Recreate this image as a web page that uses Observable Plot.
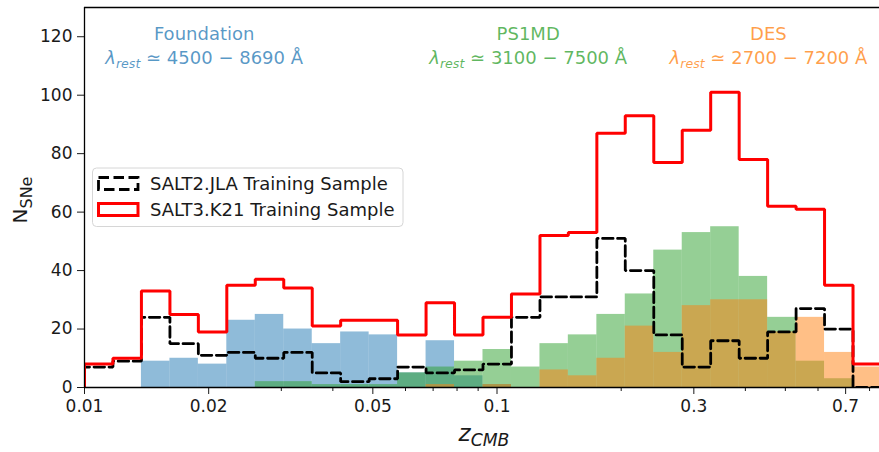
<!DOCTYPE html>
<html><head><meta charset="utf-8">
<script src="https://cdn.jsdelivr.net/npm/d3@7"></script>
<script src="https://cdn.jsdelivr.net/npm/@observablehq/plot@0.6"></script>
<style>
body{margin:0;background:#fff;}
#chart{position:relative;width:879px;height:452px;}
svg{font-family:"DejaVu Sans",sans-serif;}
svg text{white-space:pre;}
</style>
</head><body><div id="chart"></div>
<script>
// Log-spaced redshift bin edges (29 edges -> 28 bins)
const binEdges = [0.01, 0.01172, 0.01374, 0.01611, 0.01888, 0.02213, 0.02594, 0.03041, 0.03565, 0.04178,
  0.04898, 0.05741, 0.0673, 0.07889, 0.09247, 0.1084, 0.1271, 0.1489, 0.1746, 0.2046,
  0.2399, 0.2812, 0.3296, 0.3864, 0.4529, 0.5309, 0.6223, 0.7295, 0.8551];
// Counts per bin
const salt3K21  = [8,10,33,25,19,35,37,34,21,23,23,18,29,18,24,32,52,53,87,93,77,88,101,78,62,61,35,8];
const salt2JLA  = [7,9,24,15,11,12,10,12,5,2,3,7,5,6,8,24,31,31,51,40,18,7,16,10,19,27,20,0];
const foundation= [0,0,9,10,8,23,25,20,15,19,18,5,16,4,1,0,0,0,0,0,0,0,0,0,0,0,0,0];
const ps1md     = [0,0,0,0,0,0,2,2,1,1,1,5,7,9,13,7,15,18,25,32,47,53,55,38,24,9,3,0];
const des       = [0,0,0,0,0,0,0,0,0,0,0,0,1,0,1,0,6,4,10,21,12,28,30,30,19,24,12,7];

const majorTicks = [0.01, 0.02, 0.05, 0.1, 0.3, 0.7];
const majorTickLabels = ["0.01", "0.02", "0.05", "0.1", "0.3", "0.7"];
const minorTicks = [0.03, 0.04, 0.06, 0.07, 0.08, 0.09, 0.2, 0.4, 0.5, 0.6, 0.8];
const yTicks = [0, 20, 40, 60, 80, 100, 120];

const surveyNames  = ["Foundation", "PS1MD", "DES"];
const surveyRanges = ["4500 − 8690 Å", "3100 − 7500 Å", "2700 − 7200 Å"];
const surveyLabelZ = [0.0195, 0.119, 0.455];
const surveyColors = ["#1f77b4", "#2ca02c", "#ff7f0e"];
const legendLabels = ["SALT2.JLA Training Sample", "SALT3.K21 Training Sample"];

function bars(vals, color) {
  const data = vals.map((v, i) => ({x1: binEdges[i], x2: binEdges[i + 1], v})).filter(d => d.v > 0);
  return Plot.rectY(data, {x1: "x1", x2: "x2", y1: 0, y2: "v", fill: color, fillOpacity: 0.5, clip: true});
}
function steps(vals) {
  return [{x: binEdges[0], y: 0}, ...vals.map((v, i) => ({x: binEdges[i], y: v})), {x: binEdges[vals.length], y: 0}];
}

const marks = [
  bars(foundation, surveyColors[0]),
  bars(ps1md, surveyColors[1]),
  bars(des, surveyColors[2]),
  Plot.line(steps(salt2JLA), {x: "x", y: "y", curve: "step-after", stroke: "black", strokeWidth: 2.8,
    strokeDasharray: "10.5,4.5", strokeLinejoin: "miter", clip: true}),
  Plot.line(steps(salt3K21), {x: "x", y: "y", curve: "step-after", stroke: "red", strokeWidth: 3,
    strokeLinejoin: "miter", clip: true}),
  Plot.axisX({ticks: majorTicks, tickSize: 7, tickFormat: () => "", label: null}),
  Plot.text(majorTicks, {x: d => d, text: (d, i) => majorTickLabels[i], frameAnchor: "bottom", lineAnchor: "top",
    dy: 12, fontSize: 17, fill: "#1a1a1a"}),
  Plot.axisX({ticks: minorTicks, tickSize: 4, tickFormat: () => "", label: null}),
  Plot.axisY({ticks: yTicks, tickSize: 7, tickPadding: 5, fontSize: 17, label: null}),
  Plot.ruleY([130], {stroke: "black", strokeWidth: 1.3}),
  Plot.ruleY([0], {stroke: "black", strokeWidth: 1.3}),
  Plot.ruleX([0.01], {stroke: "black", strokeWidth: 1.3})
];
surveyNames.forEach((name, i) => {
  marks.push(Plot.text([name], {x: surveyLabelZ[i], y: 121, text: d => d, fill: surveyColors[i], fillOpacity: 0.75, fontSize: 18}));
  marks.push(Plot.text(["λ_{rest} ≃ " + surveyRanges[i]], {x: surveyLabelZ[i], y: 112.8, text: d => d, fill: surveyColors[i], fillOpacity: 0.75, fontSize: 18}));
});

const plot = Plot.plot({
  width: 879, height: 452,
  marginLeft: 84, marginRight: 0, marginTop: 7, marginBottom: 65,
  style: {color: "#1a1a1a", background: "#fff"},
  x: {type: "log", domain: [0.01, 0.8457]},
  y: {domain: [0, 130]},
  marks
});

const NS = "http://www.w3.org/2000/svg";
function subscriptify(el, fs, baseItalic, subItalic, subScale, shift) {
  const s = el.textContent;
  const m = s.match(/^(.*?)_\{(.*?)\}(.*)$/);
  if (!m) return;
  el.textContent = "";
  const t1 = document.createElementNS(NS, "tspan");
  t1.textContent = m[1];
  if (baseItalic) t1.setAttribute("font-style", "italic");
  const t2 = document.createElementNS(NS, "tspan");
  t2.textContent = m[2];
  t2.setAttribute("font-size", fs * subScale);
  t2.setAttribute("dy", fs * shift);
  if (subItalic) t2.setAttribute("font-style", "italic");
  el.appendChild(t1); el.appendChild(t2);
  if (m[3]) {
    const t3 = document.createElementNS(NS, "tspan");
    t3.textContent = m[3];
    t3.setAttribute("dy", -fs * shift);
    el.appendChild(t3);
  }
}
plot.querySelectorAll("text").forEach(t => {
  if (t.textContent.includes("_{")) subscriptify(t, 18, true, true, 0.7, 0.24);
});

const svg = d3.select(plot);
// axis titles
const xl = svg.append("text").attr("x", 484).attr("y", 441).attr("text-anchor", "middle")
  .attr("font-size", 23).attr("fill", "#1a1a1a").text("z_{CMB}");
subscriptify(xl.node(), 23, true, true, 0.75, 0.2);
const yl = svg.append("text").attr("transform", "translate(27,200) rotate(-90)").attr("text-anchor", "middle")
  .attr("font-size", 20).attr("fill", "#1a1a1a").text("N_{SNe}");
subscriptify(yl.node(), 20, false, false, 0.8, 0.24);

// legend
const lg = svg.append("g").attr("text-anchor", "start");
lg.append("rect").attr("x", 92.5).attr("y", 168).attr("width", 310.5).attr("height", 58.5).attr("rx", 4)
  .attr("fill", "#fff").attr("fill-opacity", 0.8).attr("stroke", "#d6d6d6").attr("stroke-width", 1);
lg.append("rect").attr("x", 98.5).attr("y", 177.5).attr("width", 39.5).attr("height", 12)
  .attr("fill", "none").attr("stroke", "black").attr("stroke-width", 2.8).attr("stroke-dasharray", "10.5,4.5");
lg.append("rect").attr("x", 98.5).attr("y", 203.5).attr("width", 39.5).attr("height", 12)
  .attr("fill", "none").attr("stroke", "red").attr("stroke-width", 3);
legendLabels.forEach((lab, i) => {
  lg.append("text").attr("x", 150).attr("y", 183.5 + 26 * i).attr("dy", "0.35em").attr("text-anchor", "start")
    .attr("font-size", 18).attr("fill", "#1a1a1a").text(lab);
});

document.getElementById("chart").appendChild(plot);
</script>
</body></html>
